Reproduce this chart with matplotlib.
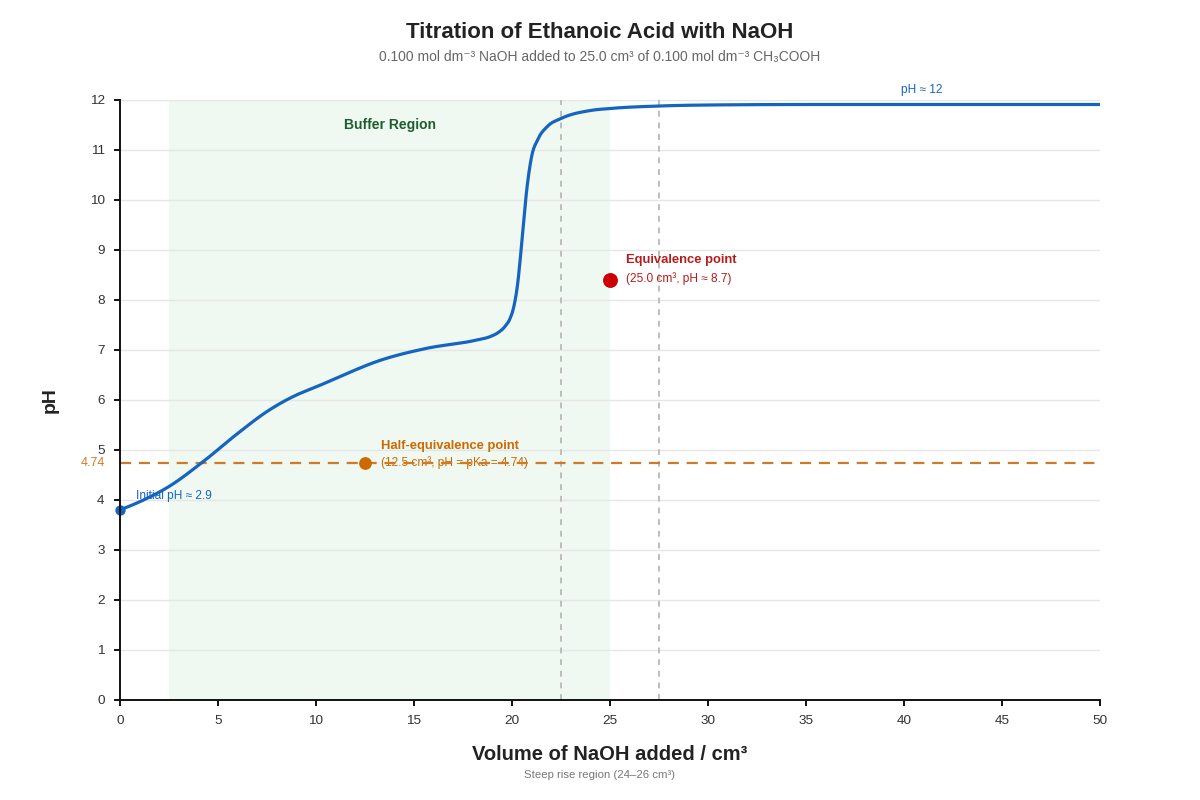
import numpy as np
import matplotlib
matplotlib.use("Agg")
import matplotlib.pyplot as plt
import matplotlib.transforms as mtransforms

plt.rcParams['font.family'] = ['Liberation Sans', 'DejaVu Sans']

# ---------------- data ----------------
volume = [0, 1.2, 2.5, 4.25, 6.0, 7.5, 9.0, 10, 11.4, 13.1, 15.6, 18.2, 18.9, 19.3, 19.64, 19.9,
          20.07, 20.27, 20.5, 20.75, 21.0, 21.3, 21.8, 22.5, 24.0, 25.0, 27.5, 30, 35, 40, 45, 50]
ph = [3.80, 4.00, 4.27, 4.77, 5.33, 5.77, 6.10, 6.26, 6.50, 6.77, 7.03, 7.20, 7.27, 7.35, 7.47, 7.63,
      7.83, 8.27, 9.15, 10.20, 10.87, 11.20, 11.47, 11.63, 11.79, 11.83, 11.88, 11.90, 11.91, 11.91, 11.91, 11.91]

buffer_range = (2.5, 25.0)
steep_lines = [22.5, 27.5]
pka = 4.74
half_eq = (12.5, 4.74)
equiv = (25.0, 8.4)
initial = (0.0, 3.8)
x_ticks = [0, 5, 10, 15, 20, 25, 30, 35, 40, 45, 50]
y_ticks = list(range(0, 13))

BLUE = '#1565C0'
ORANGE = '#D07A26'
ORANGE_DOT = '#CC6A00'
RED = '#CC0000'
GREEN_TXT = '#1E5E2E'


def monotone(x, y, n=40):
    x = np.asarray(x, float); y = np.asarray(y, float)
    h = np.diff(x); s = np.diff(y) / h
    t = np.zeros_like(x)
    for i in range(1, len(x) - 1):
        s0, s1 = s[i - 1], s[i]
        p = (s0 * h[i] + s1 * h[i - 1]) / (h[i - 1] + h[i])
        t[i] = (np.sign(s0) + np.sign(s1)) * min(abs(s0), abs(s1), 0.5 * abs(p))
    t[0] = (3 * s[0] - t[1]) / 2
    t[-1] = (3 * s[-1] - t[-2]) / 2
    xs, ys = [], []
    for i in range(len(x) - 1):
        u = np.linspace(0, 1, n, endpoint=(i == len(x) - 2))
        h00 = 2 * u**3 - 3 * u**2 + 1; h10 = u**3 - 2 * u**2 + u
        h01 = -2 * u**3 + 3 * u**2; h11 = u**3 - u**2
        xs.append(x[i] + u * h[i])
        ys.append(h00 * y[i] + h10 * h[i] * t[i] + h01 * y[i + 1] + h11 * h[i] * t[i + 1])
    return np.concatenate(xs), np.concatenate(ys)


fig = plt.figure(figsize=(12, 8), dpi=100)
ax = fig.add_axes([0.1, 0.125, 0.8167, 0.75])

ax.set_xlim(0, 50)
ax.set_ylim(0, 12)

# buffer region
ax.axvspan(*buffer_range, color='#EFF8F1', zorder=0.1, lw=0)

# gridlines
for yv in y_ticks[1:]:
    ax.axhline(yv, color='#E6E6E6', lw=1.0, zorder=0.5)

# vertical dashed lines
for xv in steep_lines:
    ax.axvline(xv, color='#BDBDBD', lw=1.4, ls=(0, (3, 3)), zorder=0.6)

# pKa line
ax.axhline(pka, color=ORANGE, lw=1.6, ls=(0, (5, 3.5)), zorder=2)
trans = mtransforms.blended_transform_factory(ax.transAxes, ax.transData)
ax.text(-0.0155, pka, f'{pka:.2f}', transform=trans, ha='right', va='center',
        fontsize=9, color=ORANGE)

# curve
cx, cy = monotone(volume, ph)
ax.plot(cx, cy, color=BLUE, lw=2.3, zorder=3, solid_capstyle='butt', solid_joinstyle='round')

# points
ax.scatter([initial[0]], [initial[1]], s=55, color=BLUE, zorder=5, clip_on=False, lw=0)
ax.scatter([half_eq[0]], [half_eq[1]], s=85, color=ORANGE_DOT, zorder=5, lw=0)
ax.scatter([equiv[0]], [equiv[1]], s=115, color=RED, zorder=5, lw=0)

# annotations
ax.text(0.8, 4.08, 'Initial pH \u2248 2.9', color=BLUE, fontsize=8.6, ha='left', va='center', zorder=4)
ax.text(13.3, 5.08, 'Half-equivalence point', color=ORANGE_DOT, fontsize=9.4, fontweight='bold',
        ha='left', va='center', zorder=4)
ax.text(13.3, 4.74, '(12.5 cm\u00b3, pH = pKa = 4.74)', color=ORANGE_DOT, fontsize=8.6,
        ha='left', va='center', zorder=1.5)
ax.text(25.8, 8.79, 'Equivalence point', color='#B71C1C', fontsize=9.4, fontweight='bold',
        ha='left', va='center', zorder=4)
ax.text(25.8, 8.43, '(25.0 cm\u00b3, pH \u2248 8.7)', color='#B71C1C', fontsize=8.6,
        ha='left', va='center', zorder=4)
ax.text(13.75, 11.5, 'Buffer Region', color=GREEN_TXT, fontsize=10, fontweight='bold',
        ha='center', va='center', zorder=4)
ax.text(40.9, 12.19, 'pH \u2248 12', color=BLUE, fontsize=8.6, ha='center', va='center',
        zorder=4, clip_on=False)

# axes styling
for sp in ['top', 'right']:
    ax.spines[sp].set_visible(False)
for sp in ['left', 'bottom']:
    ax.spines[sp].set_linewidth(1.4)
    ax.spines[sp].set_color('#111111')
    ax.spines[sp].set_zorder(6)
ax.set_xticks(x_ticks)
ax.set_yticks(y_ticks)
ax.tick_params(axis='both', length=4, width=1.4, color='#111111', labelsize=9.7,
               labelcolor='#333333', direction='out')
ax.tick_params(axis='y', pad=7)
ax.tick_params(axis='x', pad=7)

ax.set_xlabel('Volume of NaOH added / cm\u00b3', fontsize=14.5, fontweight='bold',
              color='#222222', labelpad=13)
ax.set_ylabel('pH', fontsize=14, fontweight='bold', color='#222222', labelpad=22)

fig.text(0.5, 1 - 32 / 800, 'Titration of Ethanoic Acid with NaOH', ha='center', va='center',
         fontsize=16, fontweight='bold', color='#222222')
fig.text(0.5, 1 - 57 / 800,
         '0.100 mol dm\u207b\u00b3 NaOH added to 25.0 cm\u00b3 of 0.100 mol dm\u207b\u00b3 CH\u2083COOH',
         ha='center', va='center', fontsize=10.0, color='#666666')
fig.text(0.5, 1 - 775 / 800, 'Steep rise region (24\u201326 cm\u00b3)', ha='center', va='center',
         fontsize=8.2, color='#777777')

fig.savefig('out.png', dpi=100, facecolor='white')
